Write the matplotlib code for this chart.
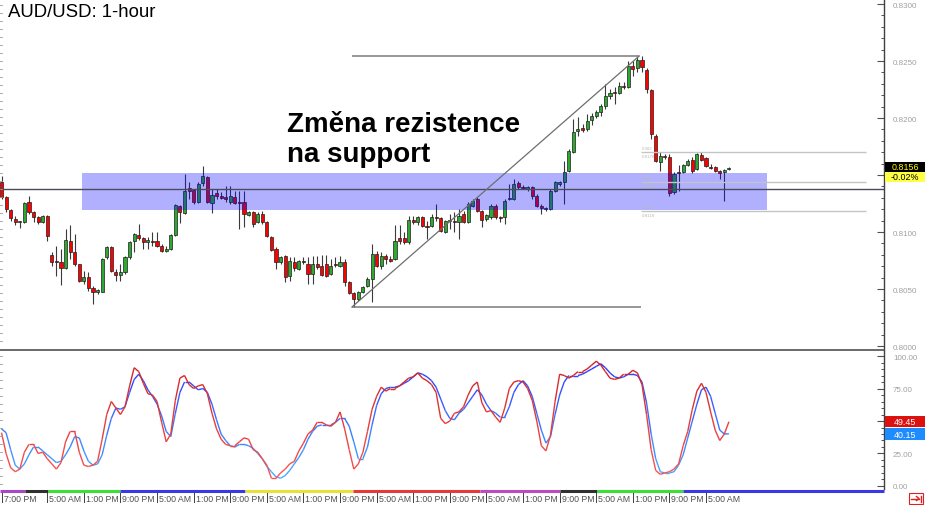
import matplotlib
matplotlib.use("Agg")
import matplotlib.pyplot as plt
import numpy as np
from matplotlib.collections import LineCollection
from matplotlib.patches import Rectangle
from matplotlib.lines import Line2D
from matplotlib.transforms import blended_transform_factory

plt.rcParams['font.family'] = ['Liberation Sans', 'DejaVu Sans']

# ---------------- data (AUD/USD 1-hour candles) ----------------
open_ = [0.81439, 0.81307, 0.81193, 0.81114, 0.81088, 0.81088, 0.81264, 0.81176, 0.81132, 0.81088,
         0.81140, 0.80798, 0.80745, 0.80737, 0.80684, 0.80921, 0.80825, 0.80719, 0.80570, 0.80605,
         0.80509, 0.80474, 0.80474, 0.80781, 0.80868, 0.80649, 0.80623, 0.80649, 0.80781, 0.80921,
         0.80974, 0.80947, 0.80912, 0.80921, 0.80921, 0.80877, 0.80833, 0.80851, 0.80974, 0.81228,
         0.81167, 0.81386, 0.81369, 0.81264, 0.81430, 0.81483, 0.81255, 0.81342, 0.81316, 0.81307,
         0.81264, 0.81307, 0.81264, 0.81264, 0.81149, 0.81176, 0.81088, 0.81158, 0.81088, 0.80956,
         0.80851, 0.80737, 0.80790, 0.80614, 0.80737, 0.80676, 0.80746, 0.80719, 0.80632, 0.80719,
         0.80702, 0.80719, 0.80632, 0.80719, 0.80702, 0.80737, 0.80561, 0.80465, 0.80412, 0.80474,
         0.80526, 0.80588, 0.80807, 0.80702, 0.80790, 0.80763, 0.80763, 0.80947, 0.80947, 0.80912,
         0.81105, 0.81088, 0.81132, 0.81053, 0.81053, 0.81132, 0.81123, 0.81000, 0.81096, 0.81096,
         0.81088, 0.81158, 0.81088, 0.81228, 0.81290, 0.81184, 0.81114, 0.81132, 0.81228, 0.81132,
         0.81132, 0.81290, 0.81290, 0.81430, 0.81395, 0.81377, 0.81395, 0.81316, 0.81228, 0.81211,
         0.81202, 0.81360, 0.81421, 0.81439, 0.81535, 0.81702, 0.81886, 0.81912, 0.81904, 0.81983,
         0.82018, 0.82053, 0.82105, 0.82193, 0.82228, 0.82219, 0.82281, 0.82272, 0.82456, 0.82439,
         0.82509, 0.82421, 0.82246, 0.81842, 0.81614, 0.81667, 0.81658, 0.81351, 0.81526, 0.81526,
         0.81588, 0.81632, 0.81553, 0.81676, 0.81649, 0.81570, 0.81570, 0.81535, 0.81526, 0.81553]
high = [0.81492, 0.81316, 0.81202, 0.81140, 0.81096, 0.81264, 0.81316, 0.81184, 0.81140, 0.81149,
        0.81149, 0.80825, 0.80877, 0.80851, 0.81026, 0.81061, 0.80983, 0.80719, 0.80658, 0.80649,
        0.80526, 0.80500, 0.80772, 0.80877, 0.80877, 0.80676, 0.80719, 0.80790, 0.80921, 0.80991,
        0.81070, 0.80956, 0.80956, 0.81000, 0.81000, 0.80895, 0.80877, 0.80983, 0.81246, 0.81237,
        0.81509, 0.81439, 0.81377, 0.81439, 0.81579, 0.81492, 0.81377, 0.81377, 0.81351, 0.81404,
        0.81404, 0.81360, 0.81360, 0.81360, 0.81184, 0.81184, 0.81176, 0.81184, 0.81096, 0.80965,
        0.80868, 0.80790, 0.80798, 0.80781, 0.80781, 0.80754, 0.80781, 0.80781, 0.80790, 0.80790,
        0.80798, 0.80798, 0.80763, 0.80781, 0.80790, 0.80763, 0.80570, 0.80474, 0.80482, 0.80526,
        0.80605, 0.80895, 0.80833, 0.80825, 0.80807, 0.80790, 0.81061, 0.81061, 0.81000, 0.81140,
        0.81140, 0.81140, 0.81140, 0.81096, 0.81158, 0.81246, 0.81132, 0.81105, 0.81158, 0.81176,
        0.81202, 0.81184, 0.81264, 0.81290, 0.81307, 0.81193, 0.81158, 0.81246, 0.81246, 0.81140,
        0.81290, 0.81421, 0.81465, 0.81448, 0.81412, 0.81404, 0.81404, 0.81333, 0.81246, 0.81219,
        0.81377, 0.81448, 0.81448, 0.81623, 0.81728, 0.81991, 0.82009, 0.81947, 0.82035, 0.82044,
        0.82070, 0.82123, 0.82298, 0.82254, 0.82272, 0.82316, 0.82316, 0.82500, 0.82500, 0.82535,
        0.82544, 0.82439, 0.82254, 0.81860, 0.81702, 0.81684, 0.81684, 0.81526, 0.81588, 0.81597,
        0.81640, 0.81658, 0.81693, 0.81702, 0.81658, 0.81597, 0.81579, 0.81544, 0.81553, 0.81570]
low = [0.81290, 0.81176, 0.81096, 0.81061, 0.81035, 0.81079, 0.81158, 0.81088, 0.81070, 0.81079,
       0.80921, 0.80702, 0.80614, 0.80535, 0.80676, 0.80763, 0.80702, 0.80561, 0.80544, 0.80482,
       0.80368, 0.80456, 0.80474, 0.80763, 0.80649, 0.80570, 0.80570, 0.80632, 0.80763, 0.80825,
       0.80930, 0.80851, 0.80851, 0.80877, 0.80868, 0.80825, 0.80825, 0.80842, 0.80965, 0.81079,
       0.81158, 0.81290, 0.81246, 0.81255, 0.81404, 0.81255, 0.81167, 0.81290, 0.81290, 0.81264,
       0.81246, 0.81246, 0.81026, 0.81044, 0.81140, 0.81044, 0.81079, 0.81070, 0.80956, 0.80833,
       0.80676, 0.80719, 0.80561, 0.80570, 0.80658, 0.80667, 0.80719, 0.80544, 0.80544, 0.80676,
       0.80614, 0.80605, 0.80623, 0.80693, 0.80693, 0.80526, 0.80456, 0.80342, 0.80395, 0.80465,
       0.80518, 0.80386, 0.80693, 0.80676, 0.80719, 0.80737, 0.80754, 0.80895, 0.80895, 0.80895,
       0.81070, 0.81061, 0.81044, 0.80939, 0.81044, 0.81096, 0.81000, 0.80991, 0.81026, 0.81000,
       0.80939, 0.81079, 0.81079, 0.81219, 0.81176, 0.81044, 0.81096, 0.81114, 0.81114, 0.81088,
       0.81070, 0.81281, 0.81281, 0.81377, 0.81377, 0.81360, 0.81290, 0.81219, 0.81158, 0.81184,
       0.81193, 0.81351, 0.81404, 0.81246, 0.81526, 0.81693, 0.81842, 0.81877, 0.81886, 0.81939,
       0.82000, 0.82018, 0.82079, 0.82167, 0.82123, 0.82211, 0.82254, 0.82263, 0.82369, 0.82404,
       0.82404, 0.82219, 0.81816, 0.81614, 0.81535, 0.81640, 0.81316, 0.81333, 0.81360, 0.81518,
       0.81579, 0.81518, 0.81544, 0.81623, 0.81570, 0.81553, 0.81526, 0.81465, 0.81272, 0.81544]
close = [0.81307, 0.81202, 0.81123, 0.81088, 0.81096, 0.81255, 0.81176, 0.81132, 0.81088, 0.81140,
         0.80965, 0.80737, 0.80737, 0.80684, 0.80930, 0.80825, 0.80719, 0.80570, 0.80605, 0.80509,
         0.80474, 0.80491, 0.80763, 0.80868, 0.80658, 0.80623, 0.80649, 0.80781, 0.80912, 0.80983,
         0.80947, 0.80912, 0.80930, 0.80912, 0.80877, 0.80833, 0.80851, 0.80974, 0.81237, 0.81176,
         0.81360, 0.81360, 0.81264, 0.81421, 0.81492, 0.81264, 0.81325, 0.81316, 0.81298, 0.81290,
         0.81316, 0.81255, 0.81255, 0.81158, 0.81176, 0.81070, 0.81158, 0.81088, 0.80965, 0.80842,
         0.80737, 0.80781, 0.80605, 0.80746, 0.80684, 0.80746, 0.80737, 0.80632, 0.80719, 0.80693,
         0.80623, 0.80614, 0.80702, 0.80711, 0.80737, 0.80561, 0.80465, 0.80412, 0.80474, 0.80518,
         0.80588, 0.80807, 0.80702, 0.80790, 0.80763, 0.80746, 0.80921, 0.80921, 0.80912, 0.81105,
         0.81088, 0.81132, 0.81053, 0.81044, 0.81132, 0.81123, 0.81009, 0.81096, 0.81105, 0.81088,
         0.81140, 0.81088, 0.81246, 0.81272, 0.81184, 0.81105, 0.81149, 0.81228, 0.81132, 0.81123,
         0.81272, 0.81298, 0.81421, 0.81395, 0.81386, 0.81395, 0.81316, 0.81228, 0.81211, 0.81202,
         0.81360, 0.81439, 0.81439, 0.81526, 0.81711, 0.81877, 0.81904, 0.81895, 0.81974, 0.82018,
         0.82053, 0.82105, 0.82193, 0.82219, 0.82219, 0.82281, 0.82272, 0.82456, 0.82430, 0.82509,
         0.82447, 0.82254, 0.81860, 0.81623, 0.81667, 0.81658, 0.81342, 0.81509, 0.81518, 0.81588,
         0.81623, 0.81535, 0.81684, 0.81632, 0.81579, 0.81562, 0.81535, 0.81518, 0.81544, 0.81562]

# Stochastic oscillator (%K red, %D blue)
stoch_k = [41, 25, 14, 11, 13, 26, 32, 32, 25, 26, 21, 17, 13, 18, 34, 42, 42, 26, 16, 15,
           16, 19, 36, 55, 65, 60, 55, 61, 77, 91, 88, 79, 71, 70, 65, 49, 34, 40, 66, 83,
           85, 78, 75, 77, 78, 71, 56, 44, 36, 32, 31, 31, 34, 37, 36, 28, 26, 21, 16, 6,
           6, 10, 13, 17, 19, 27, 33, 40, 43, 49, 49, 47, 46, 49, 57, 44, 28, 13, 17, 26,
           42, 59, 69, 76, 73, 75, 75, 77, 80, 83, 84, 87, 83, 81, 78, 72, 52, 48, 50, 56,
           57, 61, 70, 77, 80, 64, 57, 58, 53, 49, 60, 75, 80, 81, 80, 75, 66, 50, 31, 27,
           39, 65, 86, 85, 83, 85, 88, 88, 90, 93, 96, 93, 88, 83, 82, 83, 86, 86, 89, 87,
           78, 55, 28, 12, 9, 10, 11, 13, 17, 31, 42, 59, 73, 79, 72, 57, 43, 35, 40, 49.45]
stoch_d = [44, 41, 28, 16, 13, 17, 24, 30, 30, 27, 24, 21, 18, 19, 24, 30, 38, 37, 27, 19,
           16, 17, 24, 39, 52, 60, 59, 61, 72, 82, 86, 81, 74, 69, 63, 54, 42, 38, 56, 72,
           80, 80, 77, 74, 75, 72, 63, 51, 40, 35, 31, 30, 32, 32, 31, 29, 25, 21, 15, 11,
           7, 6, 8, 12, 17, 22, 28, 36, 42, 46, 47, 47, 47, 49, 52, 52, 46, 34, 21, 21,
           30, 47, 62, 71, 75, 76, 76, 77, 79, 81, 84, 87, 86, 84, 81, 76, 67, 58, 52, 51,
           56, 59, 64, 69, 74, 70, 63, 58, 56, 53, 53, 61, 72, 78, 81, 77, 69, 56, 43, 33,
           38, 55, 70, 80, 85, 85, 85, 86, 88, 90, 92, 94, 91, 87, 84, 83, 84, 86, 86, 85,
           80, 64, 40, 21, 11, 10, 10, 11, 16, 24, 37, 50, 63, 74, 76, 69, 56, 43, 40, 40.15]

# tick values; the 0.8150 and 50.00 labels are hidden behind the value boxes in the reference
price_ticks = [0.8000, 0.8050, 0.8100, 0.8150, 0.8200, 0.8250, 0.8300]
price_tick_labels = ["0.8000", "0.8050", "0.8100", "", "0.8200", "0.8250", "0.8300"]
stoch_ticks = [0, 25, 50, 75, 100]
stoch_tick_labels = ["0.00", "25.00", "", "75.00", "100.00"]

time_tick_idx = [0, 10, 18, 26, 34, 42, 50, 58, 66, 74, 82, 90, 98, 106, 114, 122, 130, 138, 146, 154]
time_labels = ["7:00 PM"] + ["5:00 AM", "1:00 PM", "9:00 PM"] * 6 + ["5:00 AM"]

# session colour bar (candle index boundaries)
session_bounds = [-0.33, 5.2, 10.2, 25.9, 53.3, 76.8, 104.6, 122.1, 130.2, 149.0, 192.9]
session_colors = ['#a848c8', '#303030', '#38e038', '#3838e8', '#e8e038', '#e83838',
                  '#c048c0', '#303030', '#38e038', '#3838e8']

# annotation levels
zone_top, zone_bottom = 0.81518, 0.81193
zone_start, zone_end = 17.6, 167.3
level_line = 0.81375
fib_high, fib_low = 0.82544, 0.80342
fib_i0, fib_i1 = 76.6, 139.4
fib_ratios = [0.382, 0.5, 0.618]
last_price = "0.8156"
last_change = "-0.02%"

# ---------------- layout ----------------
W, H = 925, 506
fig = plt.figure(figsize=(W / 100, H / 100), dpi=100)
fig.patch.set_facecolor('white')


def fx(px):
    return px / W


def fy(py):
    return 1 - py / H


ax = fig.add_axes([0, fy(351), fx(884), 351 / H])
ax2 = fig.add_axes([0, fy(490), fx(884), (490 - 352) / H])

XMIN, XMAX = -0.33, 192.9
for a in (ax, ax2):
    a.set_xlim(XMIN, XMAX)
    a.set_xticks([])
    a.spines['left'].set_visible(False)
    a.spines['top'].set_visible(False)
    a.spines['right'].set_color('#404040')
    a.spines['right'].set_linewidth(1.0)
    a.set_facecolor('white')

ax.spines['bottom'].set_color('#505050')
ax.spines['bottom'].set_linewidth(1.2)
ax2.spines['bottom'].set_visible(False)

ax.set_ylim(0.79965, 0.83044)
ax2.set_ylim(-2.31, 103.85)

# ---------------- candles ----------------
o = np.array(open_); h = np.array(high); l = np.array(low); c = np.array(close)
idx = np.arange(len(c))
ax.vlines(idx, l, h, color='#3a3a3a', lw=0.8, zorder=2)
up = c >= o
cols = np.where(up, '#2ea82e', '#ff0000')
ax.bar(idx, np.maximum(np.abs(c - o), 0.00007), bottom=np.minimum(o, c), width=0.68,
       color=cols, edgecolor='#1e1e1e', linewidth=0.5, zorder=3)

# zone
ax.add_patch(Rectangle((zone_start, zone_bottom), zone_end - zone_start, zone_top - zone_bottom,
                       facecolor='#0000ff', alpha=0.31, edgecolor='none', zorder=4))
ax.axhline(level_line, color='#4a4a5c', lw=1.0, zorder=5)

# fibonacci
ax.hlines(fib_high, fib_i0, fib_i1, color='#7a7a7a', lw=1.1, zorder=5)
ax.hlines(fib_low, fib_i0, fib_i1 + 0.4, color='#7a7a7a', lw=1.1, zorder=5)
ax.plot([fib_i0, fib_i1], [fib_low, fib_high], color='#6e6e6e', lw=0.9, zorder=5)
for r in fib_ratios:
    lvl = fib_high - r * (fib_high - fib_low)
    ax.hlines(lvl, fib_i1 + 0.4, 189.0, color='#c4c4c4', lw=1.0, zorder=5)
    ax.text(fib_i1 + 0.6, lvl + 0.00025, f"{r:.3f}", fontsize=3.2, color='#b8b8b8', zorder=6)
    ax.text(fib_i1 + 0.6, lvl - 0.00045, f"{lvl:.4f}", fontsize=3.2, color='#b8b8b8', zorder=6)

# price axis
ax.yaxis.tick_right()
ax.set_yticks(price_ticks)
ax.set_yticklabels(price_tick_labels)
ax.set_yticks(np.arange(0.800, 0.8305, 0.001), minor=True)
ax.tick_params(axis='y', which='major', direction='in', length=5, width=0.8, color='#505050',
               labelsize=5.8, labelcolor='#a0a0a0', pad=6.5)
ax.tick_params(axis='y', which='minor', direction='in', length=2.5, width=0.7, color='#505050')


# ---------------- stochastic ----------------
def grad_line(a, x, y, c_lo, c_hi, lw, z):
    pts = np.column_stack([x, y])
    segs = np.stack([pts[:-1], pts[1:]], axis=1)
    t = np.clip((np.asarray(y[:-1]) + np.asarray(y[1:])) / 200.0, 0, 1)[:, None]
    colors = np.array(c_lo) * (1 - t) + np.array(c_hi) * t
    a.add_collection(LineCollection(segs, colors=colors, linewidths=lw, zorder=z))


grad_line(ax2, idx, np.array(stoch_d, float), (0.28, 0.72, 1.0), (0.18, 0.18, 1.0), 1.0, 3)
grad_line(ax2, idx, np.array(stoch_k, float), (1.0, 0.35, 0.35), (0.80, 0.12, 0.12), 1.0, 4)

ax2.yaxis.tick_right()
ax2.set_yticks(stoch_ticks)
ax2.set_yticklabels(stoch_tick_labels)
ax2.set_yticks(np.arange(0, 101, 5), minor=True)
ax2.tick_params(axis='y', which='major', direction='in', length=5, width=0.8, color='#505050',
                labelsize=5.8, labelcolor='#a0a0a0', pad=6.5)
ax2.tick_params(axis='y', which='minor', direction='in', length=2.5, width=0.7, color='#505050')


# ---------------- figure-level decorations ----------------
def fline(xs, ys, **kw):
    fig.add_artist(Line2D([fx(x) for x in xs], [fy(y) for y in ys], transform=fig.transFigure, **kw))


# left edge small ticks
for py in range(6, 350, 8):
    fline([0, 2], [py, py], color='#9a9a9a', lw=0.6)
for py in range(357, 488, 8):
    fline([0, 2], [py, py], color='#9a9a9a', lw=0.6)

# session colour bar
bt = blended_transform_factory(ax2.transData, fig.transFigure)
for k, col in enumerate(session_colors):
    fig.add_artist(Line2D([session_bounds[k], session_bounds[k + 1]], [fy(491.5), fy(491.5)],
                          transform=bt, color=col, lw=2.2, solid_capstyle='butt'))

# time labels
fig.canvas.draw()
for ti, lab in zip(time_tick_idx, time_labels):
    xp = ax2.transData.transform((ti, 0))[0]
    fline([xp, xp], [494, 503], color='#404040', lw=0.7)
    fig.text(fx(xp + 2), fy(499.5), lab, fontsize=6.3, color='#505050', va='center', ha='left')

# title and annotation
fig.text(fx(8), fy(17.3), "AUD/USD: 1-hour", fontsize=13.4, color='black', va='baseline', ha='left')
fig.text(fx(287), fy(132), "Změna rezistence", fontsize=20, fontweight='bold', color='black',
         va='baseline', ha='left')
fig.text(fx(287), fy(162), "na support", fontsize=20, fontweight='bold', color='black',
         va='baseline', ha='left')


def label_box(y0, y1, face, txt, tcol):
    fig.add_artist(Rectangle((fx(885), fy(y1)), fx(925) - fx(885), (y1 - y0) / H,
                             transform=fig.transFigure, facecolor=face, edgecolor='none', zorder=10))
    fig.text(fx(905), fy((y0 + y1) / 2), txt, fontsize=6.4, color=tcol, ha='center', va='center', zorder=11)


label_box(163, 173, 'black', last_price, '#ffff00')
label_box(173, 183, '#ffff44', last_change, 'black')
label_box(416.5, 428, '#dd1010', f"{stoch_k[-1]:.2f}", 'white')
label_box(429, 441, '#1e8cff', f"{stoch_d[-1]:.2f}", 'white')

# scroll-to-end icon
fig.add_artist(Rectangle((fx(909), fy(505)), fx(923) - fx(909), 11 / H, transform=fig.transFigure,
                         facecolor='white', edgecolor='#e02020', lw=0.8, zorder=10))
fline([911, 919], [499.5, 499.5], color='#e02020', lw=1.0, zorder=11)
fline([916.5, 919, 916.5], [497.5, 499.5, 501.5], color='#e02020', lw=1.0, zorder=11)
fline([920.5, 920.5], [496.5, 502.5], color='#e02020', lw=1.0, zorder=11)

fig.savefig("out.png", dpi=100, facecolor='white')
